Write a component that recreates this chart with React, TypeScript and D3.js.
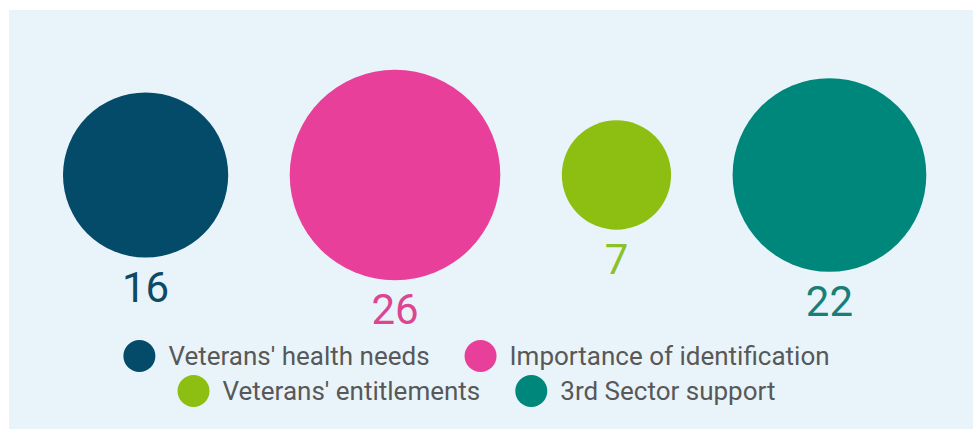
import React, { useEffect, useRef } from "react";
import * as d3 from "d3";

const categories = [
  "Veterans' health needs",
  "Importance of identification",
  "Veterans' entitlements",
  "3rd Sector support",
];
const values = [16, 26, 7, 22];
const colors = ["#044a69", "#e8409a", "#8dbf12", "#00877c"];
const labelColors = ["#0d4a66", "#dc4592", "#8cc12b", "#177f78"];
const legendRows = [[0, 1], [2, 3]];

const W = 973;
const H = 430;

export default function App() {
  const ref = useRef<SVGSVGElement>(null);

  useEffect(() => {
    const svg = d3.select(ref.current);
    svg.selectAll("*").remove();

    svg
      .append("rect")
      .attr("x", 9)
      .attr("y", 10)
      .attr("width", W - 9)
      .attr("height", H - 11)
      .attr("fill", "#e9f4fa");

    const r = d3.scaleSqrt().domain([0, d3.max(values)!]).range([0, 105.3]);
    const gap = 61.5;
    const startX = 63;
    const cy = 175;
    const cxs: number[] = [];
    let acc = startX;
    values.forEach((v) => {
      cxs.push(acc + r(v));
      acc += 2 * r(v) + gap;
    });

    const g = svg.append("g");
    g.selectAll("circle")
      .data(values)
      .join("circle")
      .attr("cx", (_, i) => cxs[i])
      .attr("cy", cy)
      .attr("r", (d) => r(d))
      .attr("fill", (_, i) => colors[i]);

    g.selectAll("text.val")
      .data(values)
      .join("text")
      .attr("class", "val")
      .attr("x", (_, i) => cxs[i])
      .attr("y", (d) => cy + r(d) + 44)
      .attr("text-anchor", "middle")
      .attr("font-family", "Roboto")
      .attr("font-size", 42)
      .attr("fill", (_, i) => labelColors[i])
      .text((d) => d);

    const legendCenter = 476.5;
    const rowY = [356, 391];
    const mr = 16;
    const fs = 26;
    legendRows.forEach((row, ri) => {
      const lg = svg.append("g");
      let x = 0;
      row.forEach((idx, k) => {
        lg.append("circle")
          .attr("cx", x + mr)
          .attr("cy", rowY[ri])
          .attr("r", mr)
          .attr("fill", colors[idx]);
        const t = lg
          .append("text")
          .attr("x", x + 2 * mr + 13)
          .attr("y", rowY[ri] + 9)
          .attr("font-family", "Roboto")
          .attr("font-size", fs)
          .attr("fill", "#585858")
          .text(categories[idx]);
        const tw = (t.node() as SVGTextElement).getComputedTextLength();
        x += 2 * mr + 13 + tw;
        if (k < row.length - 1) x += 35;
      });
      lg.attr("transform", `translate(${legendCenter - x / 2},0)`);
    });
  }, []);

  return (
    <svg
      ref={ref}
      width={W}
      height={H}
      style={{ position: "absolute", left: 0, top: 0, background: "#ffffff" }}
    />
  );
}
